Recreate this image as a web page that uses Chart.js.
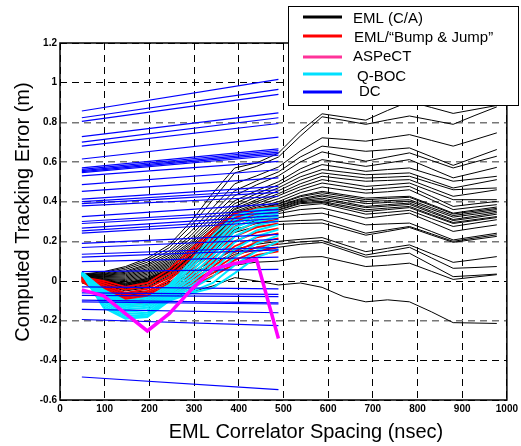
<!DOCTYPE html>
<html>
<head>
  <title>EML Correlator Spacing vs Tracking Error</title>
  <script src="https://cdn.jsdelivr.net/npm/chart.js"></script>
  <style>
    body { margin: 0; background: #fff; }
  </style>
</head>
<body>
  <canvas id="myChart" width="521" height="446"></canvas>
  <script>
    // correlator spacing points (nsec)
    const spacing = [48.9, 97.8, 146.6, 195.5, 244.4, 293.3, 342.1, 391.0, 439.9, 488.8,
      537.6, 586.5, 635.4, 684.3, 733.1, 782.0, 830.9, 879.8, 928.6, 977.5];

    // EML (C/A) - one row per multipath case
    const emlCA = [
      [0.034, 0.047, 0.073, 0.115, 0.182, 0.300, 0.443, 0.570, 0.595, 0.645, 0.755, 0.843, 0.827, 0.811, 0.860, 0.905, 0.875, 0.845, 0.865, 0.885],
      [0.032, 0.043, 0.066, 0.105, 0.168, 0.278, 0.410, 0.545, 0.578, 0.625, 0.730, 0.828, 0.810, 0.790, 0.812, 0.832, 0.811, 0.790, 0.835, 0.878],
      [0.030, 0.038, 0.058, 0.095, 0.152, 0.250, 0.370, 0.490, 0.530, 0.575, 0.655, 0.722, 0.714, 0.705, 0.722, 0.738, 0.709, 0.680, 0.713, 0.747],
      [0.030, 0.035, 0.050, 0.085, 0.140, 0.230, 0.345, 0.455, 0.505, 0.550, 0.625, 0.680, 0.667, 0.654, 0.662, 0.671, 0.627, 0.583, 0.623, 0.663],
      [0.028, 0.032, 0.044, 0.078, 0.130, 0.215, 0.325, 0.430, 0.485, 0.530, 0.600, 0.651, 0.627, 0.604, 0.625, 0.646, 0.608, 0.570, 0.600, 0.629],
      [0.027, 0.029, 0.038, 0.070, 0.120, 0.200, 0.305, 0.405, 0.455, 0.500, 0.565, 0.612, 0.595, 0.578, 0.595, 0.612, 0.566, 0.520, 0.546, 0.573],
      [0.026, 0.026, 0.032, 0.062, 0.112, 0.190, 0.290, 0.390, 0.440, 0.485, 0.545, 0.587, 0.570, 0.553, 0.562, 0.570, 0.536, 0.503, 0.515, 0.528],
      [0.025, 0.022, 0.026, 0.055, 0.104, 0.180, 0.277, 0.375, 0.425, 0.470, 0.525, 0.562, 0.549, 0.536, 0.540, 0.545, 0.507, 0.469, 0.490, 0.511],
      [0.024, 0.019, 0.020, 0.048, 0.096, 0.170, 0.265, 0.365, 0.410, 0.455, 0.508, 0.545, 0.532, 0.519, 0.523, 0.528, 0.494, 0.460, 0.465, 0.469],
      [0.023, 0.016, 0.014, 0.041, 0.089, 0.161, 0.255, 0.360, 0.400, 0.440, 0.490, 0.528, 0.515, 0.503, 0.507, 0.511, 0.469, 0.427, 0.443, 0.460],
      [0.022, 0.012, 0.008, 0.034, 0.082, 0.152, 0.245, 0.350, 0.390, 0.430, 0.475, 0.511, 0.494, 0.477, 0.485, 0.494, 0.452, 0.410, 0.410, 0.410],
      [0.020, 0.009, 0.002, 0.027, 0.075, 0.144, 0.236, 0.345, 0.380, 0.415, 0.460, 0.494, 0.477, 0.460, 0.468, 0.477, 0.427, 0.376, 0.389, 0.401],
      [0.019, 0.006, -0.004, 0.020, 0.068, 0.136, 0.228, 0.340, 0.372, 0.400, 0.445, 0.474, 0.458, 0.443, 0.450, 0.460, 0.410, 0.360, 0.373, 0.385],
      [0.018, 0.003, -0.010, 0.014, 0.061, 0.128, 0.220, 0.335, 0.365, 0.390, 0.430, 0.452, 0.435, 0.418, 0.423, 0.427, 0.385, 0.342, 0.358, 0.373],
      [0.018, 0.002, -0.012, 0.012, 0.059, 0.126, 0.218, 0.333, 0.363, 0.387, 0.425, 0.445, 0.428, 0.410, 0.416, 0.422, 0.380, 0.338, 0.352, 0.366],
      [0.017, 0.000, -0.016, 0.008, 0.055, 0.120, 0.212, 0.330, 0.360, 0.380, 0.415, 0.435, 0.418, 0.401, 0.405, 0.410, 0.370, 0.330, 0.345, 0.360],
      [0.016, -0.001, -0.018, 0.006, 0.053, 0.118, 0.210, 0.328, 0.358, 0.377, 0.410, 0.428, 0.408, 0.390, 0.396, 0.402, 0.362, 0.322, 0.337, 0.352],
      [0.015, -0.003, -0.022, 0.002, 0.049, 0.113, 0.204, 0.320, 0.352, 0.370, 0.405, 0.418, 0.397, 0.376, 0.385, 0.393, 0.352, 0.310, 0.327, 0.345],
      [0.015, -0.004, -0.024, 0.000, 0.047, 0.111, 0.202, 0.318, 0.350, 0.367, 0.400, 0.410, 0.390, 0.370, 0.378, 0.386, 0.345, 0.305, 0.320, 0.337],
      [0.014, -0.006, -0.028, -0.004, 0.043, 0.106, 0.196, 0.310, 0.345, 0.360, 0.395, 0.401, 0.380, 0.359, 0.368, 0.376, 0.335, 0.295, 0.310, 0.325],
      [0.013, -0.007, -0.030, -0.006, 0.041, 0.104, 0.194, 0.307, 0.342, 0.357, 0.390, 0.396, 0.373, 0.350, 0.360, 0.370, 0.330, 0.290, 0.305, 0.320],
      [0.012, -0.009, -0.033, -0.010, 0.037, 0.099, 0.188, 0.300, 0.335, 0.350, 0.380, 0.390, 0.363, 0.337, 0.346, 0.356, 0.315, 0.275, 0.292, 0.309],
      [0.010, -0.012, -0.038, -0.016, 0.031, 0.092, 0.180, 0.290, 0.325, 0.340, 0.360, 0.368, 0.343, 0.317, 0.330, 0.342, 0.296, 0.250, 0.267, 0.283],
      [0.008, -0.015, -0.042, -0.022, 0.025, 0.085, 0.170, 0.275, 0.305, 0.320, 0.335, 0.342, 0.313, 0.283, 0.288, 0.292, 0.250, 0.207, 0.224, 0.241],
      [0.006, -0.018, -0.046, -0.028, 0.019, 0.078, 0.160, 0.260, 0.290, 0.300, 0.305, 0.309, 0.275, 0.241, 0.258, 0.275, 0.238, 0.200, 0.217, 0.233],
      [0.004, -0.020, -0.050, -0.034, 0.013, 0.071, 0.150, 0.245, 0.275, 0.285, 0.290, 0.292, 0.262, 0.231, 0.250, 0.270, 0.232, 0.195, 0.210, 0.225],
      [0.000, -0.025, -0.060, -0.050, -0.005, 0.045, 0.100, 0.160, 0.185, 0.200, 0.210, 0.219, 0.183, 0.148, 0.165, 0.182, 0.138, 0.094, 0.108, 0.123],
      [-0.002, -0.028, -0.065, -0.058, -0.015, 0.035, 0.088, 0.145, 0.170, 0.185, 0.197, 0.204, 0.167, 0.131, 0.150, 0.170, 0.117, 0.064, 0.068, 0.073],
      [-0.004, -0.030, -0.070, -0.065, -0.025, 0.025, 0.078, 0.135, 0.155, 0.170, 0.185, 0.194, 0.157, 0.120, 0.130, 0.140, 0.081, 0.022, 0.028, 0.035],
      [-0.006, -0.035, -0.075, -0.075, -0.045, -0.005, 0.040, 0.080, 0.095, 0.100, 0.120, 0.123, 0.098, 0.073, 0.080, 0.090, 0.049, 0.008, 0.020, 0.032],
      [-0.010, -0.040, -0.085, -0.100, -0.085, -0.055, -0.025, 0.017, 0.000, -0.020, -0.010, -0.032, -0.080, -0.105, -0.095, -0.105, -0.155, -0.210, -0.212, -0.214]
    ];

    // EML / "Bump & Jump" (first 10 spacings)
    const bumpJump = [
      [0.020, 0.000, -0.030, -0.010, 0.060, 0.160, 0.260, 0.340, 0.365, 0.375],
      [0.018, -0.010, -0.045, -0.025, 0.040, 0.140, 0.240, 0.320, 0.350, 0.360],
      [0.016, -0.020, -0.060, -0.040, 0.020, 0.115, 0.215, 0.300, 0.335, 0.345],
      [0.014, -0.030, -0.070, -0.052, 0.005, 0.095, 0.190, 0.275, 0.315, 0.330],
      [0.012, -0.038, -0.080, -0.062, -0.010, 0.075, 0.165, 0.250, 0.295, 0.310],
      [0.010, -0.045, -0.088, -0.072, -0.022, 0.055, 0.140, 0.225, 0.270, 0.290],
      [0.008, -0.052, -0.095, -0.080, -0.035, 0.035, 0.115, 0.200, 0.245, 0.265],
      [0.006, -0.058, -0.102, -0.088, -0.045, 0.018, 0.092, 0.175, 0.220, 0.240],
      [0.004, -0.062, -0.108, -0.096, -0.055, 0.005, 0.072, 0.150, 0.195, 0.215],
      [0.002, -0.066, -0.113, -0.104, -0.064, -0.008, 0.055, 0.125, 0.170, 0.190],
      [0.000, -0.070, -0.118, -0.110, -0.072, -0.018, 0.040, 0.105, 0.150, 0.170],
      [-0.002, -0.074, -0.122, -0.115, -0.080, -0.028, 0.025, 0.085, 0.130, 0.150]
    ];

    // Q-BOC (first 10 spacings)
    const qboc = [
      [0.045, -0.045, -0.100, -0.085, -0.020, 0.100, 0.230, 0.330, 0.360, 0.370],
      [0.044, -0.052, -0.108, -0.095, -0.030, 0.082, 0.205, 0.310, 0.345, 0.355],
      [0.043, -0.060, -0.116, -0.105, -0.040, 0.065, 0.180, 0.290, 0.330, 0.340],
      [0.042, -0.068, -0.124, -0.115, -0.050, 0.045, 0.155, 0.270, 0.315, 0.330],
      [0.041, -0.076, -0.132, -0.125, -0.058, 0.025, 0.130, 0.250, 0.300, 0.320],
      [0.040, -0.085, -0.142, -0.135, -0.066, 0.008, 0.105, 0.225, 0.280, 0.305],
      [0.039, -0.095, -0.155, -0.147, -0.075, -0.010, 0.080, 0.195, 0.255, 0.285],
      [0.038, -0.105, -0.165, -0.160, -0.082, -0.025, 0.050, 0.160, 0.225, 0.260],
      [0.037, -0.115, -0.175, -0.170, -0.088, -0.040, 0.020, 0.120, 0.190, 0.230],
      [0.036, -0.125, -0.185, -0.178, -0.095, -0.055, -0.010, 0.080, 0.150, 0.200],
      [0.035, -0.135, -0.190, -0.182, -0.100, -0.062, -0.035, 0.040, 0.120, 0.160]
    ];

    // ASPeCT (first 10 spacings)
    const aspect = [-0.045, -0.075, -0.165, -0.252, -0.165, -0.045, 0.060, 0.088, 0.108, -0.290];

    // DC: straight lines from first to tenth spacing
    const dcStart = [0.857, 0.823, 0.805, 0.728, 0.700, 0.680, 0.615, 0.570, 0.563, 0.557, 0.551, 0.546, 0.530,
      0.486, 0.452, 0.413, 0.400, 0.390, 0.379, 0.325, 0.300, 0.290, 0.267, 0.253, 0.241, 0.190, 0.169, 0.135,
      0.120, 0.098, 0.047, -0.030, -0.060, -0.072, -0.096, -0.105, -0.143, -0.194, -0.484];
    const dcEnd = [1.017, 0.966, 0.941, 0.848, 0.823, 0.794, 0.725, 0.666, 0.658, 0.650, 0.642, 0.634, 0.603,
      0.561, 0.520, 0.477, 0.460, 0.447, 0.426, 0.390, 0.360, 0.345, 0.330, 0.315, 0.300, 0.235, 0.210, 0.170,
      0.157, 0.120, 0.059, -0.040, -0.067, -0.079, -0.110, -0.116, -0.160, -0.225, -0.548];

    const legendItems = [
      { text: 'EML (C/A)', color: '#000000', lineY: 17, textX: 353, textY: 19 },
      { text: 'EML/\u201cBump & Jump\u201d', color: '#ff0000', lineY: 36, textX: 354, textY: 38 },
      { text: 'ASPeCT', color: '#ff3399', lineY: 57, textX: 353, textY: 57 },
      { text: 'Q-BOC', color: '#00e0ff', lineY: 74, textX: 357, textY: 77 },
      { text: 'DC', color: '#0000ff', lineY: 92, textX: 359, textY: 92 }
    ];

    const FONT = 'Arial, "Liberation Sans", sans-serif';

    function toPoints(ys) {
      return ys.map((y, i) => ({ x: spacing[i], y: y }));
    }

    const datasets = [];
    emlCA.forEach(row => datasets.push({
      data: toPoints(row), borderColor: '#000000', borderWidth: 1, order: 5
    }));
    bumpJump.forEach(row => datasets.push({
      data: toPoints(row), borderColor: '#ff0000', borderWidth: 1.8, order: 4
    }));
    qboc.forEach(row => datasets.push({
      data: toPoints(row), borderColor: '#00e8ff', borderWidth: 2, order: 3
    }));
    dcStart.forEach((s, i) => datasets.push({
      data: [{ x: spacing[0], y: s }, { x: spacing[9], y: dcEnd[i] }],
      borderColor: '#0000ff', borderWidth: 1.2, order: 2
    }));
    datasets.push({
      data: toPoints(aspect), borderColor: '#ff00ff', borderWidth: 3.5, order: 1
    });

    // axis titles, frame and legend box
    const decorations = {
      id: 'decorations',
      afterDraw(chart) {
        const ctx = chart.ctx;
        const a = chart.chartArea;
        ctx.save();
        ctx.strokeStyle = '#000';
        ctx.lineWidth = 1.5;
        ctx.strokeRect(a.left, a.top, a.right - a.left, a.bottom - a.top);

        ctx.fillStyle = '#000';
        ctx.font = '20px ' + FONT;
        ctx.textAlign = 'center';
        ctx.textBaseline = 'middle';
        ctx.fillText('EML Correlator Spacing (nsec)', 306, 432);
        ctx.save();
        ctx.translate(23, 212);
        ctx.rotate(-Math.PI / 2);
        ctx.fillText('Computed Tracking Error (m)', 0, 0);
        ctx.restore();

        // legend
        ctx.fillStyle = '#fff';
        ctx.fillRect(288.5, 6.5, 230, 99);
        ctx.lineWidth = 1;
        ctx.strokeRect(288.5, 6.5, 230, 99);
        ctx.font = '15px ' + FONT;
        ctx.textAlign = 'left';
        legendItems.forEach(item => {
          ctx.strokeStyle = item.color;
          ctx.lineWidth = 3;
          ctx.beginPath();
          ctx.moveTo(303, item.lineY);
          ctx.lineTo(342, item.lineY);
          ctx.stroke();
          ctx.fillStyle = '#000';
          ctx.fillText(item.text, item.textX, item.textY);
        });
        ctx.restore();
      }
    };

    const grayLines = [0.8, 0.6, 0.4, 0.2, -0.2];

    const config = {
      type: 'line',
      data: { datasets: datasets },
      options: {
        responsive: false,
        animation: false,
        layout: { padding: { left: 0, right: 11, top: 43, bottom: 0 } },
        elements: {
          point: { radius: 0 },
          line: { tension: 0, fill: false }
        },
        scales: {
          x: {
            type: 'linear',
            min: 0,
            max: 1000,
            afterFit: (scale) => { scale.height = 46; },
            ticks: {
              stepSize: 100,
              maxRotation: 0,
              padding: 3,
              color: '#000',
              font: { family: FONT, size: 10, weight: 'bold' },
              callback: (v) => String(v)
            },
            grid: { color: '#000', lineWidth: 1, drawTicks: false },
            border: { display: false, dash: [7, 5] }
          },
          y: {
            type: 'linear',
            min: -0.6,
            max: 1.2,
            afterFit: (scale) => { scale.width = 60; },
            ticks: {
              stepSize: 0.2,
              padding: 3,
              color: '#000',
              font: { family: FONT, size: 10, weight: 'bold' },
              callback: (v) => String(Math.round(v * 10) / 10)
            },
            grid: {
              drawTicks: false,
              color: (c) => grayLines.includes(Math.round(c.tick.value * 10) / 10) ? '#777' : '#000',
              lineWidth: (c) => grayLines.includes(Math.round(c.tick.value * 10) / 10) ? 1.4 : 1
            },
            border: { display: false, dash: [7, 5] }
          }
        },
        plugins: {
          legend: { display: false },
          tooltip: { enabled: false }
        }
      },
      plugins: [decorations]
    };

    new Chart(document.getElementById('myChart'), config);
  </script>
</body>
</html>
